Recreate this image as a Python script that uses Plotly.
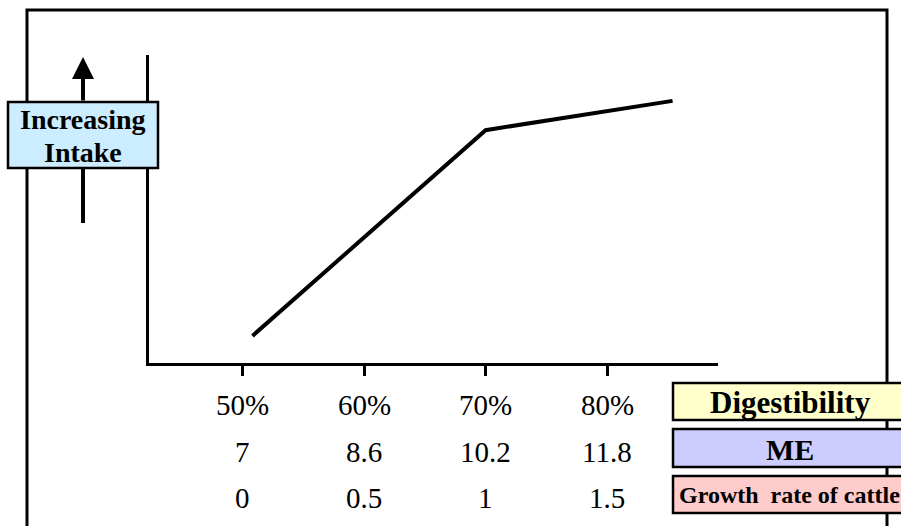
import plotly.graph_objects as go

W, H = 901, 526

# ---- data ----
tick_vals = [50, 60, 70, 80]
digest_labels = ["50%", "60%", "70%", "80%"]
me_labels = ["7", "8.6", "10.2", "11.8"]
growth_labels = ["0", "0.5", "1", "1.5"]
row_titles = ["Digestibility", "ME", "Growth  rate of cattle"]
curve_x = [50.8, 70.0, 85.4]
curve_y = [0.88, 7.56, 8.51]
y_title = ["Increasing", "Intake"]


def px(x):
    return x / W


def py(y):
    return 1 - y / H


SERIF = "Liberation Serif, Times New Roman, serif"

fig = go.Figure()
fig.add_trace(go.Scatter(x=curve_x, y=curve_y, mode="lines",
                         line=dict(color="black", width=4),
                         hoverinfo="skip", showlegend=False))

shapes = []
# outer frame
shapes.append(dict(type="rect", xref="paper", yref="paper",
                   x0=px(27), x1=px(887), y0=-0.1, y1=py(10),
                   line=dict(color="black", width=3), fillcolor="rgba(0,0,0,0)"))
# lower part of the arrow shaft
shapes.append(dict(type="line", xref="paper", yref="paper",
                   x0=px(83), x1=px(83), y0=py(168), y1=py(223),
                   line=dict(color="black", width=4)))
# label boxes
boxes = [
    (8, 158, 102, 168, "#CCECFF"),
    (673, 915, 383, 420, "#FFFFCC"),
    (673, 915, 429, 467, "#CCCCFF"),
    (673, 915, 476, 513, "#FFCCCC"),
]
for x0, x1, y0, y1, c in boxes:
    shapes.append(dict(type="rect", xref="paper", yref="paper",
                       x0=px(x0), x1=px(x1), y0=py(y1), y1=py(y0),
                       line=dict(color="black", width=2.5), fillcolor=c))

annotations = []
# arrow head + upper shaft
annotations.append(dict(xref="paper", yref="paper", x=px(83), y=py(57),
                        ax=0, ay=45, text="", showarrow=True,
                        arrowhead=2, arrowsize=1.1, arrowwidth=4,
                        arrowcolor="black", standoff=0, startstandoff=0))
# y title
for t, yc in zip(y_title, [119, 152]):
    annotations.append(dict(xref="paper", yref="paper", x=px(83), y=py(yc),
                            text="<b>%s</b>" % t, showarrow=False,
                            xanchor="center", yanchor="middle",
                            font=dict(family=SERIF, size=28, color="black")))

# tick label rows
rows = [(digest_labels, 405), (me_labels, 452), (growth_labels, 498)]
for labels, yc in rows:
    for v, lab in zip(tick_vals, labels):
        annotations.append(dict(xref="x", yref="paper", x=v, y=py(yc),
                                text=lab, showarrow=False,
                                xanchor="center", yanchor="middle",
                                font=dict(family=SERIF, size=29, color="black")))

# row titles
annotations.append(dict(xref="paper", yref="paper", x=px(790), y=py(402),
                        text="<b>%s</b>" % row_titles[0], showarrow=False,
                        xanchor="center", yanchor="middle",
                        font=dict(family=SERIF, size=31, color="black")))
annotations.append(dict(xref="paper", yref="paper", x=px(790), y=py(449),
                        text="<b>%s</b>" % row_titles[1], showarrow=False,
                        xanchor="center", yanchor="middle",
                        font=dict(family=SERIF, size=30, color="black")))
annotations.append(dict(xref="paper", yref="paper", x=px(677), y=py(495),
                        text="<b>%s</b>" % row_titles[2], showarrow=False,
                        xanchor="left", yanchor="middle",
                        font=dict(family=SERIF, size=24, color="black")))

fig.update_layout(
    width=W, height=H, autosize=False,
    margin=dict(l=0, r=0, t=0, b=0),
    paper_bgcolor="white", plot_bgcolor="white",
    showlegend=False,
    shapes=shapes, annotations=annotations,
    xaxis=dict(domain=[px(149), px(718)], range=[42.28, 89.14],
               showline=True, linecolor="black", linewidth=3,
               ticks="outside", ticklen=10, tickwidth=3, tickcolor="black",
               tickvals=tick_vals, showticklabels=False,
               showgrid=False, zeroline=False, fixedrange=True),
    yaxis=dict(domain=[py(363), py(55)], range=[0, 10],
               showline=True, linecolor="black", linewidth=3,
               ticks="", showticklabels=False,
               showgrid=False, zeroline=False, fixedrange=True),
)

fig.write_html("out.html",
               config={"displayModeBar": False},
               post_script="document.body.style.margin='0';"
                           "document.body.style.overflow='hidden';")
